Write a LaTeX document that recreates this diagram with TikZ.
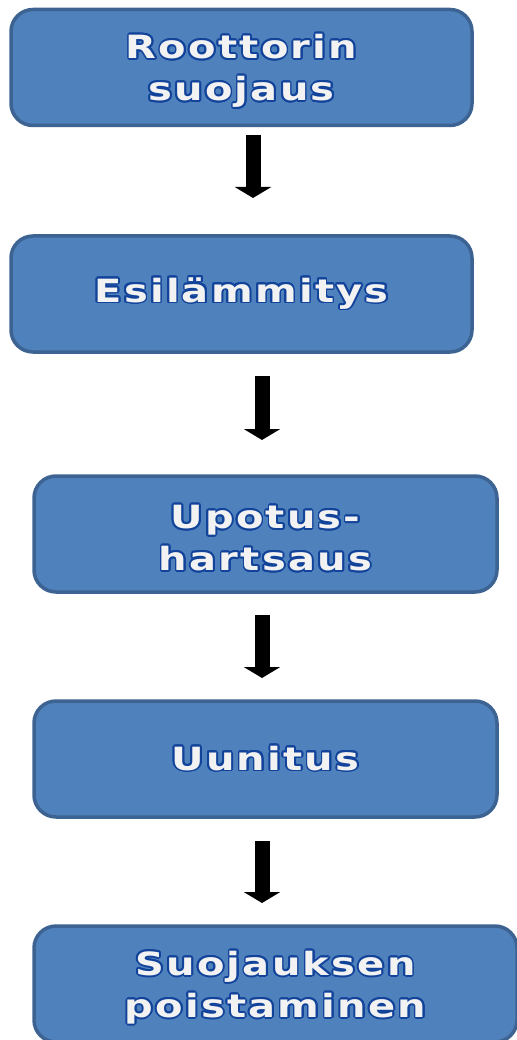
\documentclass[tikz,border=0pt]{standalone}
\usepackage{fontspec}
\usepackage{contour}
\usetikzlibrary{arrows.meta}
\newfontfamily\boxfont[FakeStretch=1.25,LetterSpace=7]{DejaVu Sans Bold}
\definecolor{boxfill}{HTML}{4F81BD}
\definecolor{boxline}{HTML}{3C6391}
\definecolor{txtline}{HTML}{12439A}
\definecolor{txtfill}{HTML}{F2F2F2}
\contourlength{1.8pt}
\newcommand{\ctxt}[1]{\contour{txtline}{#1}}
\newcommand{\lowstrut}{\rule{0pt}{33pt}}
\tikzset{
  stepbox/.style={draw=boxline, line width=3.5pt, fill=boxfill, rounded corners=22pt,
    minimum height=116pt, align=center, text=txtfill, inner sep=0pt,
    font=\boxfont\fontsize{32}{42}\selectfont},
  flowarrow/.style={line width=15pt, draw=black,
    -{Triangle[width=36pt,length=11pt]}}
}
\begin{document}
\begin{tikzpicture}[x=1pt,y=-1pt]
\useasboundingbox (0,0) rectangle (516,1040);
\node[stepbox, minimum width=461pt] (b1) at (241.5,67.5) {\lowstrut\ctxt{Roottorin}\\\ctxt{suojaus}};
\node[stepbox, minimum width=461pt] (b2) at (241.5,294) {\ctxt{Esilämmitys}};
\node[stepbox, minimum width=463pt] (b3) at (265.5,534) {\lowstrut\ctxt{Upotus-}\\\ctxt{hartsaus}};
\node[stepbox, minimum width=463pt] (b4) at (265.5,759) {\ctxt{Uunitus}};
\node[stepbox, minimum width=483pt] (b5) at (275.5,984) {\lowstrut\ctxt{Suojauksen}\\\ctxt{poistaminen}};
\coordinate (a1s) at (253,135);
\coordinate (a1e) at (253,198);
\coordinate (a2s) at (262,376);
\coordinate (a2e) at (262,440);
\coordinate (a3s) at (262,615);
\coordinate (a3e) at (262,678);
\coordinate (a4s) at (262,841);
\coordinate (a4e) at (262,903);
\draw[flowarrow] (a1s) -- (a1e);
\draw[flowarrow] (a2s) -- (a2e);
\draw[flowarrow] (a3s) -- (a3e);
\draw[flowarrow] (a4s) -- (a4e);
\end{tikzpicture}
\end{document}
